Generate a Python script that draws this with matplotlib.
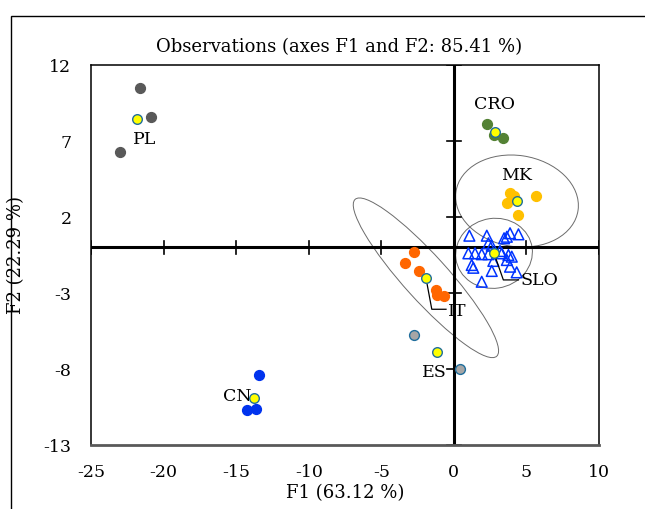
import matplotlib.pyplot as plt
import numpy as np
from matplotlib.patches import Ellipse, Rectangle

plt.rcParams['font.family'] = ['DejaVu Serif']
plt.rcParams['font.size'] = 12
plt.rcParams['axes.unicode_minus'] = False

# observations per group: F1 / F2 scores
pl_f1 = [-21.6, -20.9, -23.0]
pl_f2 = [10.5, 8.6, 6.3]
cro_f1 = [2.3, 2.8, 3.4]
cro_f2 = [8.1, 7.4, 7.2]
mk_f1 = [3.9, 4.15, 3.65, 5.65, 4.4]
mk_f2 = [3.55, 3.35, 2.9, 3.35, 2.1]
it_f1 = [-2.75, -3.35, -2.4, -1.25, -1.15, -0.65]
it_f2 = [-0.3, -1.0, -1.55, -2.8, -3.15, -3.2]
es_f1 = [-2.75, 0.4]
es_f2 = [-5.75, -8.0]
cn_f1 = [-13.45, -14.25, -13.6]
cn_f2 = [-8.4, -10.7, -10.65]
slo_f1 = [1.07, 2.27, 3.46, 3.65, 3.87, 4.45, 2.38, 2.61, 1.0, 1.46, 1.92, 2.38,
          3.3, 3.76, 3.99, 3.65, 2.72, 1.23, 1.34, 3.87, 2.61, 4.33, 1.92, 3.18]
slo_f2 = [0.77, 0.77, 0.6, 0.7, 0.93, 0.86, 0.27, 0.11, -0.39, -0.39, -0.45, -0.45,
          -0.39, -0.5, -0.61, -0.83, -0.89, -1.16, -1.34, -1.27, -1.55, -1.64, -2.26, -0.24]

groups = {
    'PL': (pl_f1, pl_f2),
    'CRO': (cro_f1, cro_f2),
    'MK': (mk_f1, mk_f2),
    'SLO': (slo_f1, slo_f2),
    'IT': (it_f1, it_f2),
    'ES': (es_f1, es_f2),
    'CN': (cn_f1, cn_f2),
}

# confidence ellipses (semi axes in F units, angle in degrees)
ell_groups = ['MK', 'SLO', 'IT']
ell_a = [4.25, 2.65, 7.1]
ell_b = [3.0, 2.3, 1.5]
ell_ang = [-8, 8, -46.5]

fig = plt.figure(figsize=(6.45, 5.09), dpi=100)
ax = fig.add_axes([91 / 645, 1 - 445 / 509, 508 / 645, 380 / 509])

# outer frame
fig.add_artist(Rectangle((11 / 645, -0.1), 1.2, 0.1 + (1 - 16 / 509), transform=fig.transFigure,
                         fill=False, edgecolor='black', linewidth=1.0, zorder=0))

ax.set_xlim(-25, 10)
ax.set_ylim(-13, 12)
xt = np.arange(-25, 11, 5)
yt = np.arange(-13, 13, 5)
ax.set_xticks(xt)
ax.set_yticks(yt)
ax.tick_params(length=0, labelsize=12.5)
ax.tick_params(axis='x', pad=14)
ax.tick_params(axis='y', pad=14)
for s in ['left', 'top', 'right']:
    ax.spines[s].set_linewidth(1.1)
ax.spines['bottom'].set_color('#595959')
ax.spines['bottom'].set_linewidth(2)

# ellipses
for g, a, b, ang in zip(ell_groups, ell_a, ell_b, ell_ang):
    cx, cy = np.mean(groups[g][0]), np.mean(groups[g][1])
    ax.add_patch(Ellipse((cx, cy), 2 * a, 2 * b, angle=ang, fill=False,
                         edgecolor='#6b6b6b', linewidth=0.7, zorder=1))

# crossing axes with ticks
ax.axhline(0, color='black', linewidth=2.2, zorder=2)
ax.axvline(0, color='black', linewidth=2.2, zorder=2)
for v in xt:
    ax.plot([v, v], [-0.45, 0.45], color='black', linewidth=1.2, zorder=2)
for v in yt:
    ax.plot([-0.5, 0.5], [v, v], color='black', linewidth=1.2, zorder=2)

# points
ax.scatter(pl_f1, pl_f2, s=50, color='#595959', zorder=3)
ax.scatter(cro_f1, cro_f2, s=50, color='#548235', zorder=3)
ax.scatter(mk_f1, mk_f2, s=50, color='#FFC000', zorder=3)
ax.scatter(it_f1, it_f2, s=50, color='#FF6600', zorder=3)
ax.scatter(cn_f1, cn_f2, s=50, color='#0033EE', zorder=3)
ax.scatter(es_f1, es_f2, s=50, color='#A6A6A6', edgecolors='#1F6E9C', linewidths=1.0, zorder=3)
ax.scatter(slo_f1, slo_f2, s=60, marker='^', facecolors='none', edgecolors='#0033FF',
           linewidths=1.1, zorder=3)

# centroids
for g, (f1, f2) in groups.items():
    ax.scatter(np.mean(f1), np.mean(f2), s=48, color='#FFFF00', edgecolors='#1F6E9C',
               linewidths=1.0, zorder=5)

# labels and leaders
ax.text(-21.3, 7.1, 'PL', ha='center', va='center', fontsize=12.5, zorder=4)
ax.text(2.8, 9.4, 'CRO', ha='center', va='center', fontsize=12.5, zorder=4)
ax.text(4.35, 4.7, 'MK', ha='center', va='center', fontsize=12.5, zorder=4)
ax.text(-13.95, -9.8, 'CN', ha='right', va='center', fontsize=12.5, zorder=4)
ax.text(-0.5, -8.2, 'ES', ha='right', va='center', fontsize=12.5, zorder=4)
ax.text(4.6, -2.2, 'SLO', ha='left', va='center', fontsize=12.5, zorder=4)
ax.text(-0.4, -4.2, 'IT', ha='left', va='center', fontsize=12.5, zorder=4)
slo_c = (np.mean(slo_f1), np.mean(slo_f2))
it_c = (np.mean(it_f1), np.mean(it_f2))
ax.plot([slo_c[0], 3.41, 4.45], [slo_c[1], -2.14, -2.14], color='black', linewidth=0.9, zorder=4)
ax.plot([it_c[0], -1.52, -0.54], [it_c[1], -4.07, -4.07], color='black', linewidth=0.9, zorder=4)

fig.text(339 / 645, 1 - 47 / 509, 'Observations (axes F1 and F2: 85.41 %)', ha='center',
         va='center', fontsize=13)
fig.text(345 / 645, 1 - 493 / 509, 'F1 (63.12 %)', ha='center', va='center', fontsize=13)
fig.text(16 / 645, 1 - 255 / 509, 'F2 (22.29 %)', ha='center', va='center', rotation=90,
         fontsize=13)

fig.savefig('out.png', dpi=100)
